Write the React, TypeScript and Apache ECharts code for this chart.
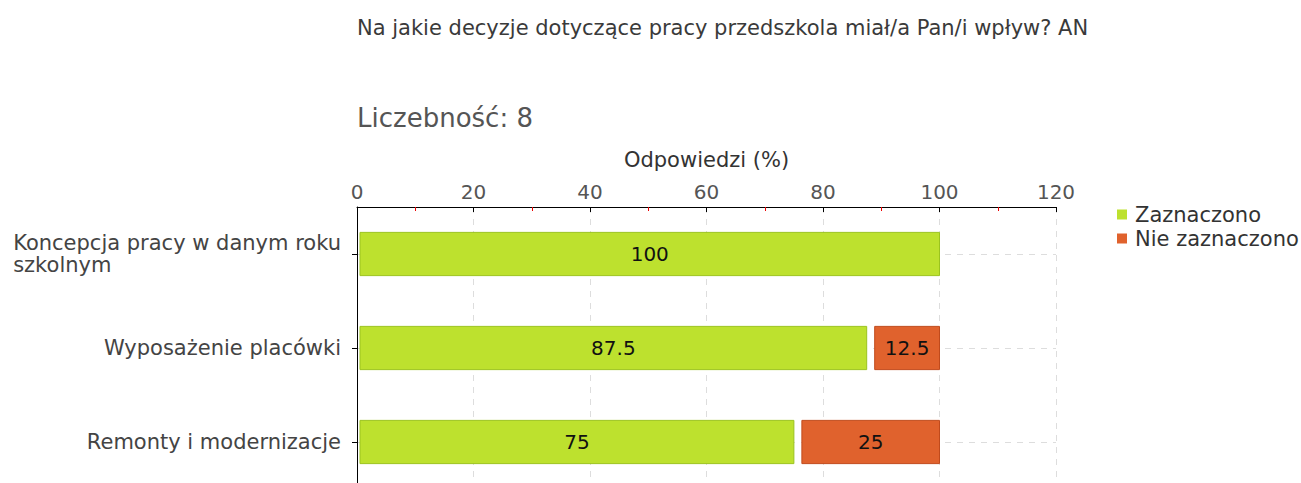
import React, { useEffect, useRef } from "react";
import * as echarts from "echarts";

const categories = ["Koncepcja pracy w danym roku\nszkolnym", "Wyposażenie placówki", "Remonty i modernizacje"];
const seriesNames = ["Zaznaczono", "Nie zaznaczono"];
const zaznaczono = [100, 87.5, 75];
const nieZaznaczono = [0, 12.5, 25];
const xTicks = [0, 20, 40, 60, 80, 100, 120];

const COLORS = ["#bde12e", "#e0622d"];
const BORDERS = ["#9bc31e", "#c04a1c"];
const FONT = "DejaVu Sans";

export default function App() {
  const ref = useRef<HTMLDivElement>(null);
  useEffect(() => {
    document.body.style.margin = "0";
    document.body.style.overflow = "hidden";
    const chart = echarts.init(ref.current!, null, { renderer: "svg" });
    const all = [zaznaczono, nieZaznaczono];
    const makeSeries = (si: number) => {
      const data = categories.map((_, ci) => {
        let start = 0;
        for (let k = 0; k < si; k++) start += all[k][ci];
        return [ci, start, start + all[si][ci], all[si][ci]];
      });
      return {
        type: "custom",
        name: seriesNames[si],
        itemStyle: { color: COLORS[si] },
        encode: { x: [1, 2], y: 0 },
        data: data.filter((d) => d[3] > 0),
        renderItem: (params: any, api: any) => {
          const ci = api.value(0);
          const s = api.value(1);
          const e = api.value(2);
          const v = api.value(3);
          const p0 = api.coord([s, ci]);
          const p1 = api.coord([e, ci]);
          const band = api.size([0, 1])[1];
          const h = band * 0.46;
          const inset = s === 0 ? 3 : 8;
          const x0 = p0[0] + inset;
          const x1 = p1[0];
          return {
            type: "rect",
            shape: { x: x0, y: p0[1] - h / 2, width: x1 - x0, height: h },
            style: { fill: COLORS[si], stroke: BORDERS[si], lineWidth: 1 },
            textContent: {
              style: {
                text: String(v),
                fill: "#111",
                fontSize: 20,
                fontFamily: FONT,
              },
            },
            textConfig: { position: "inside" },
          };
        },
      };
    };
    chart.setOption({
      animation: false,
      title: [
        {
          text: "Na jakie decyzje dotyczące pracy przedszkola miał/a Pan/i wpływ? AN",
          left: 352,
          top: 12,
          textStyle: { fontSize: 21, fontWeight: "normal", color: "#3a3a3a", fontFamily: FONT },
        },
        {
          text: "Liczebność: 8",
          left: 352,
          top: 100,
          textStyle: { fontSize: 26, fontWeight: "normal", color: "#555", fontFamily: FONT },
        },
      ],
      legend: {
        orient: "vertical",
        left: 1112,
        top: 199,
        itemWidth: 10,
        itemHeight: 10,
        itemGap: 3,
        icon: "rect",
        textStyle: { fontSize: 21, color: "#333", fontFamily: FONT, padding: [0, 0, 0, 3] },
        data: seriesNames.map((n, i) => ({ name: n, itemStyle: { color: COLORS[i] } })),
      },
      grid: { left: 357, top: 207, width: 699, height: 282, containLabel: false },
      xAxis: {
        type: "value",
        position: "top",
        min: xTicks[0],
        max: xTicks[xTicks.length - 1],
        interval: 20,
        name: "Odpowiedzi (%)",
        nameLocation: "middle",
        nameGap: 37,
        nameTextStyle: { fontSize: 21, color: "#333", fontFamily: FONT },
        axisLine: { show: true, lineStyle: { color: "#000", width: 1 } },
        axisTick: { show: true, inside: true, length: 5, lineStyle: { color: "#000" } },
        minorTick: { show: true, splitNumber: 2, length: 4, lineStyle: { color: "#e00" } },
        axisLabel: { fontSize: 20, color: "#555", margin: 5, fontFamily: FONT, formatter: (v: number) => (xTicks.includes(v) ? String(v) : "") },
        splitLine: { show: true, lineStyle: { color: "#ddd", type: [6, 6] } },
      },
      yAxis: {
        type: "category",
        inverse: true,
        data: categories,
        axisLine: { show: true, lineStyle: { color: "#000", width: 1 } },
        axisTick: { show: true, alignWithLabel: true, length: 5, lineStyle: { color: "#000" } },
        splitLine: { show: true, alignWithLabel: true, lineStyle: { color: "#ddd", type: [6, 6] } },
        axisLabel: {
          fontSize: 21,
          color: "#444",
          margin: 16,
          fontFamily: FONT,
          lineHeight: 22,
          formatter: (v: string) => v.split("\n").map((l) => "{l|" + l + "}").join("\n"),
          rich: { l: { align: "left", fontSize: 21, color: "#444", fontFamily: FONT, lineHeight: 22 } },
        },
      },
      series: [makeSeries(0), makeSeries(1)],
    });
    return () => chart.dispose();
  }, []);
  return <div ref={ref} style={{ position: "absolute", left: 0, top: 0, width: 1301, height: 500 }} />;
}
